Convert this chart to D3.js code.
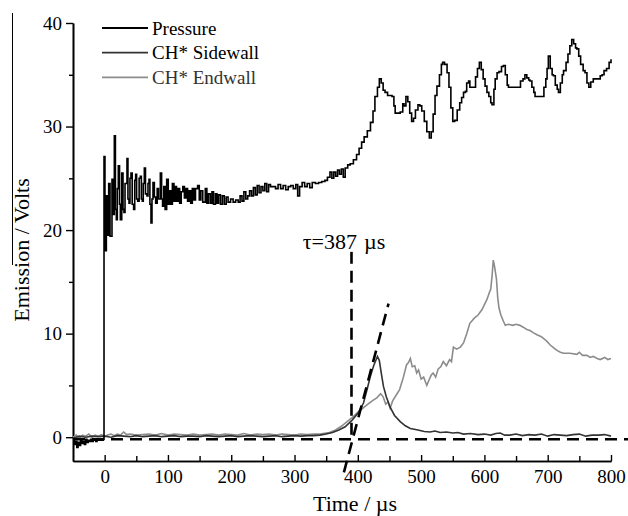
<!DOCTYPE html>
<html>
<head>
<meta charset="utf-8">
<script src="https://cdn.jsdelivr.net/npm/d3@7"></script>
<style>
  body { margin: 0; background: #fff; }
  text { font-family: "Liberation Serif", "Times New Roman", serif; }
</style>
</head>
<body>
<div id="graph"></div>
<script>
// series names (legend order)
const seriesNames = ["Pressure", "CH* Sidewall", "CH* Endwall"];

// tick values
const xTicks = [0, 100, 200, 300, 400, 500, 600, 700, 800];
const xMinorTicks = [50, 150, 250, 350, 450, 550, 650, 750];
const yTicks = [0, 10, 20, 30, 40];
const yMinorTicks = [5, 15, 25, 35];

// pressure trace (time in µs, signal in volts)
const pressureTime = [-50,-48,-46,-44,-42,-40,-38,-36,-34,-32,-30,-28,-26,-24,-22,-20,-18,-16,-14,-12,-10,-8,-6,-4,-2,
  -1,0.5,2.7,4.5,6.4,8.5,11.6,13.5,15.3,17,18.5,20,21.6,23.5,24.8,27,29,30.5,32.2,35.3,36.8,38.5,40,41.6,43.5,45.8,
  47.5,49,50.5,52.2,54.5,56.4,58,59.5,61,62.7,64.5,66.9,68.5,70.1,71.5,73.2,74.8,76.4,78.5,80.6,83,85,88,90,91.5,93.5,
  95.5,98,100.5,102.5,104.5,107,109.5,111.5,113.5,116,118.5,121,123.5,126,128.5,131,133.5,136,138.5,141,143.5,146.9,
  149.5,152,155,159,161.5,164,167,169.6,172,175,177.5,180,183,186,189,192,195,199,203,207,211,214,217,220,223,226,229,
  232,235,238,241,244,247,250,253,256,259,262,266,270,274,278,282,286,290,294,298,302,305,308,312,316,320,324,328,333,
  338,343,348,352,356,359,362,365,368,371,374,377,380,384,388,393,398,402,406,410,415,420,424,427,431,434,437,440,443,
  447,451,454,457,459,464,467,471,473,476,479,482,485,488,491,495,498,501,505,509,513,516,519,522,525,529,532,534,537,
  541,544,547,550,553,557,561,564,567,570,572,575,577,580,583,586,589,592,595,598,601,604,607,610,612,615,617,620,623,
  627,630,633,636,638,643,648,654,657,661,664,667,670,672,675,678,680,685,691,694,697,699,701,704,707,709,712,715,717,
  720,723,725,729,732,735,738,741,744,746,749,752,756,759,762,765,768,772,776,780,783,786,789,793,797,800];
const pressureVolts = [-0.2,-0.7,-0.4,-1.0,-0.5,-0.8,-0.3,-0.6,-0.4,-0.7,-0.2,-0.5,-0.3,-0.4,-0.2,-0.4,-0.3,-0.2,-0.4,-0.3,-0.2,-0.3,-0.2,-0.3,-0.2,
  27.1,18.0,23.3,19.5,24.5,19.4,24.9,21.5,29.1,22.0,21.0,24.0,26.2,22.5,21.0,25.5,22.0,21.7,24.5,26.9,23.0,22.6,25.0,25.5,22.5,22.0,
  24.8,25.4,23.0,22.8,25.0,25.2,23.0,22.8,24.5,26.0,23.5,23.3,24.5,24.9,22.5,20.7,23.0,24.6,23.2,22.6,24.0,23.0,25.5,23.0,22.3,24.2,
  22.0,24.9,22.5,23.8,22.5,24.5,22.8,24.2,22.8,24.0,22.6,23.7,24.2,23.1,24.0,22.8,23.8,22.6,24.0,22.9,24.0,24.3,
  22.9,23.8,22.7,24.0,22.6,23.5,22.6,23.7,22.5,23.5,22.6,23.4,22.5,23.3,22.5,23.2,22.7,23.0,22.7,22.9,22.7,23.3,22.8,23.7,23.0,23.3,23.8,
  23.3,24.1,23.4,24.3,23.6,24.2,23.8,24.5,23.7,24.4,24.2,24.2,24.0,24.4,24.0,24.3,23.9,24.2,24.3,24.0,24.4,23.3,24.2,24.6,24.2,24.5,24.1,24.6,24.5,
  24.6,24.7,24.8,25.1,25.6,25.0,25.6,25.2,25.8,25.4,25.9,25.1,26.0,26.3,26.4,26.8,27.3,27.9,28.5,29.0,29.6,30.4,31.5,32.9,33.8,34.6,34.2,33.5,33.3,
  33.0,33.0,32.9,32.0,31.3,31.3,31.4,32.2,32.0,32.9,32.4,31.3,30.5,30.8,31.6,32.1,32.0,31.5,30.5,29.5,28.9,29.5,31.2,33.0,33.9,35.0,36.0,36.2,36.0,
  35.2,33.8,31.8,30.5,30.6,31.6,32.3,32.8,33.3,33.4,34.2,34.4,33.8,33.8,33.8,34.8,35.6,36.2,35.5,34.6,33.9,33.3,32.9,32.3,32.1,33.6,34.6,35.2,35.3,
  35.8,35.9,35.0,34.0,33.8,33.8,33.8,33.8,34.4,34.6,35.0,34.7,34.5,34.4,33.8,33.3,32.9,32.9,32.9,33.8,34.6,35.6,36.8,35.6,35.0,34.9,34.0,33.6,33.3,
  34.2,35.0,35.4,36.2,37.0,37.8,38.4,38.0,37.6,37.5,36.8,36.0,35.4,35.2,34.2,33.8,34.3,34.6,34.6,34.6,34.9,35.0,35.4,35.6,36.2,36.5];

// CH* sidewall emission
const sidewallTime = [-50,-40,-30,-20,-10,0,10,20,30,40,50,60,70,80,90,100,110,120,130,140,150,160,170,180,190,200,210,220,230,240,250,
  260,270,280,290,300,310,320,330,340,350,360,370,380,391,400,409,415,419.5,425,429,431,434,437,440.5,445,451,458,467,475,483,
  495,505,514,522,530,540,550,558,567,578,590,600,610,618,625,632,640,650,660,670,680,690,700,710,720,730,740,750,760,770,780,790,800];
const sidewallVolts = [-0.1,0.1,0.0,0.1,0.05,0.1,0.0,0.15,0.1,0.05,0.15,0.05,0.1,0.15,0.05,0.1,0.15,0.05,0.1,0.1,0.05,0.15,0.1,0.05,0.1,0.15,0.05,0.1,0.15,0.1,0.05,
  0.1,0.15,0.05,0.1,0.15,0.1,0.15,0.15,0.2,0.3,0.45,0.7,1.0,1.65,2.3,3.3,4.7,5.8,6.9,7.5,7.8,7.4,6.2,4.9,3.9,2.9,2.1,1.5,1.1,0.84,
  0.7,0.55,0.5,0.6,0.45,0.5,0.4,0.45,0.3,0.35,0.25,0.3,0.2,0.35,0.4,0.2,0.2,0.3,0.15,0.25,0.2,0.3,0.1,0.25,0.2,0.15,0.25,0.3,0.1,0.2,0.2,0.25,0.1];

// CH* endwall emission
const endwallTime = [-50,-45,-40,-35,-30,-25,-20,-15,-10,-5,0,5,10,15,20,25,30,35,40,50,60,70,80,90,100,110,120,130,140,150,160,170,180,
  190,200,210,220,230,240,250,260,270,280,290,300,310,320,330,340,355,365,375,383,391,400,410,418,425,430,436,440,444,448,451,455,
  460,466,472,477,480,483,486,490,493,496,500,504,509,513,516,519,523,527,531,535,540,545,548,551,556,562,567,572,577,584,590,596,
  600,604,608,610,612,614,616,619,621,623,626,630,633,638,645,650,656,662,667,672,677,683,690,698,704,710,714,720,725,735,746,750,
  755,762,767,772,778,783,790,795,800];
const endwallVolts = [0.0,0.2,-0.1,0.2,0.1,0.3,0.0,0.2,0.1,0.25,0.1,0.2,0.3,0.15,0.3,0.2,0.5,0.25,0.3,0.2,0.25,0.3,0.2,0.35,0.2,0.3,0.25,0.2,0.3,0.2,0.25,0.3,0.2,
  0.3,0.25,0.2,0.35,0.2,0.3,0.25,0.3,0.2,0.3,0.25,0.2,0.3,0.25,0.3,0.3,0.45,0.7,1.1,1.5,1.9,2.4,2.9,3.3,3.6,3.8,4.2,3.9,3.2,3.4,2.8,3.5,
  4.0,4.6,5.8,7.0,7.2,7.6,6.8,6.9,6.2,6.5,5.6,5.8,5.0,5.6,6.0,6.2,5.8,6.6,6.8,7.3,6.9,7.5,7.3,8.7,8.5,8.7,9.1,10.0,11.0,11.5,11.8,12.3,
  12.8,13.3,14.0,14.3,15.5,17.1,16.5,15.3,13.5,12.5,11.8,11.2,10.8,10.9,10.8,10.9,10.8,10.6,10.4,10.3,10.1,9.9,9.7,9.3,8.9,8.6,8.4,8.2,8.1,8.1,8.0,8.2,
  7.9,7.9,7.7,7.8,7.6,7.5,7.7,7.5,7.6];

// induction time construction lines
const tau = 387;
const tauMarkerTime = [390, 390];
const tauMarkerVolts = [17.9, -0.3];
const tangentTime = [378, 448.5];
const tangentVolts = [-3.4, 12.9];
const baselineTime = [-50, 827];
const baselineVolts = [-0.2, -0.2];

var margin = {top: 23, right: 17, bottom: 55, left: 73};
var width = 628 - margin.left - margin.right;
var height = 516 - margin.top - margin.bottom;

const svg0 = d3.select("#graph")
  .append("svg")
  .attr("width", 628)
  .attr("height", 516)
  .style("display", "block");

svg0.append("rect").attr("width", 628).attr("height", 516).attr("fill", "#fff");

const svg = svg0.append("g")
  .attr("transform", "translate(" + margin.left + "," + margin.top + ")");

const x = d3.scaleLinear().domain([-50, 800]).range([0, width]);
const y = d3.scaleLinear().domain([-2.3, 40]).range([height, 0]);

// the pressure record is digitised, so it is drawn as steps
const stepLine = d3.line().x(d => x(d[0])).y(d => y(d[1])).curve(d3.curveStepAfter);
const line = d3.line().x(d => x(d[0])).y(d => y(d[1]));
const zip = (a, b) => a.map((t, i) => [t, b[i]]);

// axes
svg.append("g")
  .call(d3.axisLeft(y).tickValues(yTicks).tickSize(7).tickSizeOuter(0).tickPadding(4));
svg.append("g")
  .call(d3.axisLeft(y).tickValues(yMinorTicks).tickSize(4).tickSizeOuter(0).tickFormat(""));

svg.append("g")
  .attr("transform", "translate(0," + height + ")")
  .call(d3.axisBottom(x).tickValues(xTicks).tickSizeInner(-6).tickSizeOuter(0).tickPadding(9));
svg.append("g")
  .attr("transform", "translate(0," + height + ")")
  .call(d3.axisBottom(x).tickValues(xMinorTicks).tickSizeInner(-5).tickSizeOuter(0).tickFormat(""));

svg.selectAll(".domain").attr("stroke", "#000").attr("stroke-width", 1.6);
svg.selectAll(".tick line").attr("stroke", "#000").attr("stroke-width", 1.4);
svg.selectAll(".tick text")
  .attr("fill", "#000")
  .style("font-family", "'Liberation Serif', serif")
  .style("font-size", "19px");

// traces
svg.append("path")
  .datum(zip(endwallTime, endwallVolts))
  .attr("fill", "none").attr("stroke", "#8c8c8c").attr("stroke-width", 1.6)
  .attr("d", line);
svg.append("path")
  .datum(zip(sidewallTime, sidewallVolts))
  .attr("fill", "none").attr("stroke", "#333").attr("stroke-width", 1.6)
  .attr("d", line);
svg.append("path")
  .datum(zip(pressureTime, pressureVolts))
  .attr("fill", "none").attr("stroke", "#000").attr("stroke-width", 1.6)
  .attr("d", stepLine);

// dashed construction lines
[[baselineTime, baselineVolts], [tauMarkerTime, tauMarkerVolts], [tangentTime, tangentVolts]].forEach(function(p) {
  svg.append("path")
    .datum(zip(p[0], p[1]))
    .attr("fill", "none").attr("stroke", "#000").attr("stroke-width", 2.6)
    .attr("stroke-dasharray", "12,7")
    .attr("d", line);
});

const tauLabel = svg.append("text")
  .attr("x", x(313))
  .attr("y", y(18.2))
  .style("font-size", "22px")
  .text("\u03c4=" + tau);
tauLabel.append("tspan")
  .attr("dx", 7)
  .text("\u00b5s");

// legend
const legendColors = ["#000", "#333", "#8c8c8c"];
const legend = svg.selectAll(".legend")
  .data(seriesNames)
  .join("g")
  .attr("transform", (d, i) => "translate(" + (102 - margin.left) + "," + (28 + i * 24.7 - margin.top) + ")");
legend.append("line")
  .attr("x1", 0).attr("x2", 46)
  .attr("stroke", (d, i) => legendColors[i]).attr("stroke-width", 1.8);
legend.append("text")
  .attr("x", 50).attr("y", 6.5)
  .style("font-size", "19px")
  .attr("fill", (d, i) => i == 2 ? "#333" : "#000")
  .text(d => d);

// axis titles
svg.append("text")
  .attr("x", width / 2 + 13)
  .attr("y", height + 50)
  .attr("text-anchor", "middle")
  .style("font-size", "22px")
  .text("Time / \u00b5s");

svg0.append("text")
  .attr("transform", "translate(29,250) rotate(-90)")
  .attr("text-anchor", "middle")
  .style("font-size", "22px")
  .text("Emission / Volts");

// stray rule left of the y title, as in the original figure
svg0.append("line")
  .attr("x1", 12.5).attr("x2", 12.5)
  .attr("y1", 13).attr("y2", 265)
  .attr("stroke", "#000").attr("stroke-width", 1);
</script>
</body>
</html>
